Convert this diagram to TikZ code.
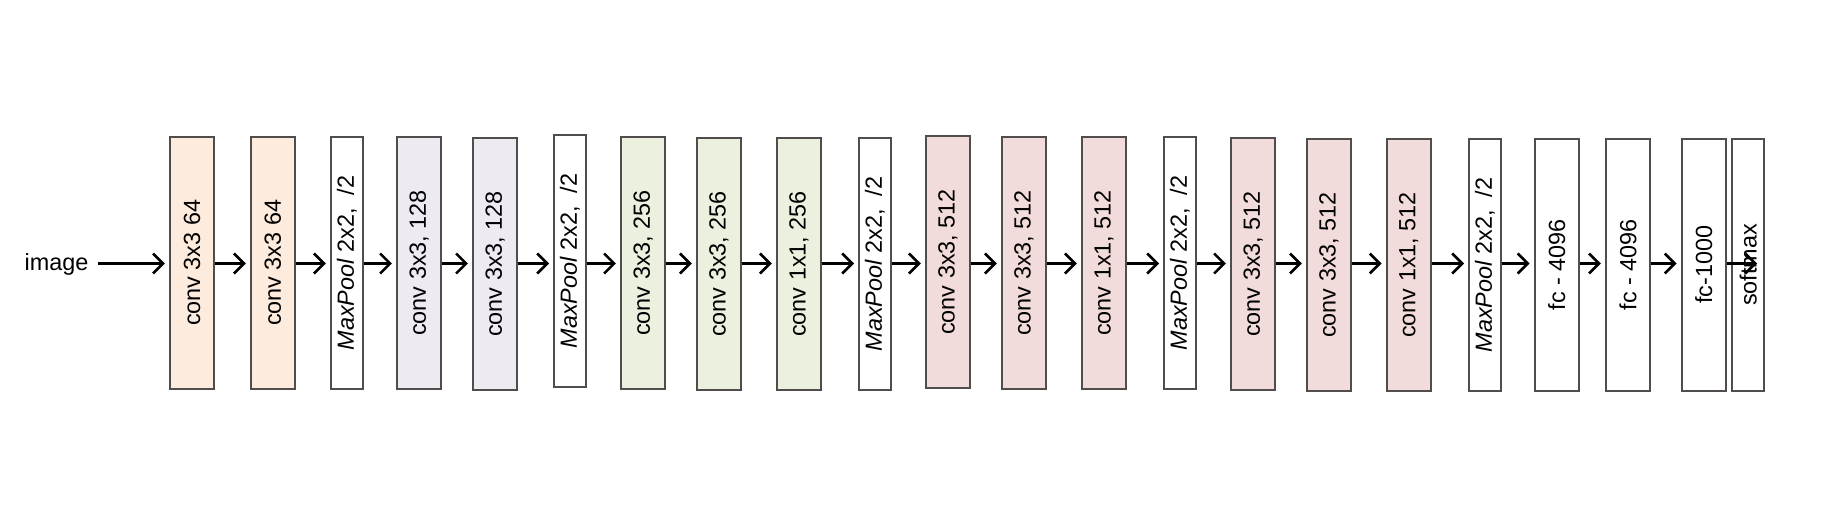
\documentclass[tikz,border=0pt]{standalone}
\usepackage{fontspec}
\setmainfont{Liberation Sans}
\usetikzlibrary{arrows.meta}
\definecolor{cOrange}{RGB}{253,235,222}
\definecolor{cLav}{RGB}{237,234,242}
\definecolor{cGreen}{RGB}{235,241,222}
\definecolor{cPink}{RGB}{242,220,219}
\definecolor{cBorder}{RGB}{80,77,76}
\tikzset{
  layerbox/.style={draw=cBorder, line width=2pt, minimum width=44.3pt, minimum height=252.3pt, inner sep=0pt},
  poolbox/.style={layerbox, minimum width=32pt, fill=white},
  convorange/.style={layerbox, fill=cOrange},
  convlav/.style={layerbox, fill=cLav},
  convgreen/.style={layerbox, fill=cGreen},
  convpink/.style={layerbox, fill=cPink},
  fcbox/.style={layerbox, fill=white},
  smbox/.style={poolbox},
  layertext/.style={rotate=90, inner sep=0pt, font=\fontsize{23.4}{28}\selectfont},
  flow/.style={draw=black, line width=2.6pt, -{Straight Barb[length=10pt,width=20pt,line width=2.6pt]}, shorten >=4pt}
}
\begin{document}
\begin{tikzpicture}[x=1pt,y=-1pt]
\useasboundingbox (0,0) rectangle (1826,521);
\coordinate (arr) at (0,263.5);
\node[anchor=base east, inner sep=0pt, font=\fontsize{23.4}{28}\selectfont] (image) at (88.5,270.7) {image};

\node[convorange] (b1) at (192.0,262.9) {};
\node[convorange] (b2) at (272.9,262.9) {};
\node[poolbox]    (b3) at (346.8,262.9) {};
\node[convlav]    (b4) at (419.1,262.9) {};
\node[convlav]    (b5) at (495.1,263.9) {};
\node[poolbox]    (b6) at (570.0,260.9) {};
\node[convgreen]  (b7) at (643.1,262.9) {};
\node[convgreen]  (b8) at (718.9,263.9) {};
\node[convgreen]  (b9) at (798.9,263.9) {};
\node[poolbox]    (b10) at (875.0,263.9) {};
\node[convpink]   (b11) at (947.9,261.9) {};
\node[convpink]   (b12) at (1023.9,262.9) {};
\node[convpink]   (b13) at (1103.9,262.9) {};
\node[poolbox]    (b14) at (1180.0,262.9) {};
\node[convpink]   (b15) at (1253.1,263.9) {};
\node[convpink]   (b16) at (1329.0,264.9) {};
\node[convpink]   (b17) at (1408.8,264.9) {};
\node[poolbox]    (b18) at (1485.0,264.9) {};
\node[fcbox]      (b19) at (1556.7,264.9) {};
\node[fcbox]      (b20) at (1628.0,264.9) {};
\node[fcbox]      (b21) at (1703.8,264.9) {};
\node[smbox]      (b22) at (1748.2,264.9) {};

\node[layertext] (t1) at (b1.center) {conv 3x3 64};
\node[layertext] (t2) at (b2.center) {conv 3x3 64};
\node[layertext] (t3) at (b3.center) {\textit{MaxPool} 2x2,\ \ /2};
\node[layertext] (t4) at (b4.center) {conv 3x3, 128};
\node[layertext] (t5) at (b5.center) {conv 3x3, 128};
\node[layertext] (t6) at (b6.center) {\textit{MaxPool} 2x2,\ \ /2};
\node[layertext] (t7) at (b7.center) {conv 3x3, 256};
\node[layertext] (t8) at (b8.center) {conv 3x3, 256};
\node[layertext] (t9) at (b9.center) {conv 1x1, 256};
\node[layertext] (t10) at (b10.center) {\textit{MaxPool} 2x2,\ \ /2};
\node[layertext] (t11) at (b11.center) {conv 3x3, 512};
\node[layertext] (t12) at (b12.center) {conv 3x3, 512};
\node[layertext] (t13) at (b13.center) {conv 1x1, 512};
\node[layertext] (t14) at (b14.center) {\textit{MaxPool} 2x2,\ \ /2};
\node[layertext] (t15) at (b15.center) {conv 3x3, 512};
\node[layertext] (t16) at (b16.center) {conv 3x3, 512};
\node[layertext] (t17) at (b17.center) {conv 1x1, 512};
\node[layertext] (t18) at (b18.center) {\textit{MaxPool} 2x2,\ \ /2};
\node[layertext] (t19) at (b19.center) {fc - 4096};
\node[layertext] (t20) at (b20.center) {fc - 4096};
\node[layertext] (t21) at (b21.center) {fc-1000};
\node[layertext] (t22) at (b22.center) {softmax};

\draw[flow, shorten <=9.8pt] (image.east |- arr) -- (b1.west |- arr);
\foreach \a/\b in {b1/b2,b2/b3,b3/b4,b4/b5,b5/b6,b6/b7,b7/b8,b8/b9,b9/b10,b10/b11,b11/b12,b12/b13,b13/b14,b14/b15,b15/b16,b16/b17,b17/b18,b18/b19,b19/b20,b20/b21}
  \draw[flow] (\a.east |- arr) -- (\b.west |- arr);
\coordinate (smtip) at (1757,263.5);
\draw[flow, shorten >=0pt] (b21.east |- arr) -- (smtip);
\end{tikzpicture}
\end{document}
